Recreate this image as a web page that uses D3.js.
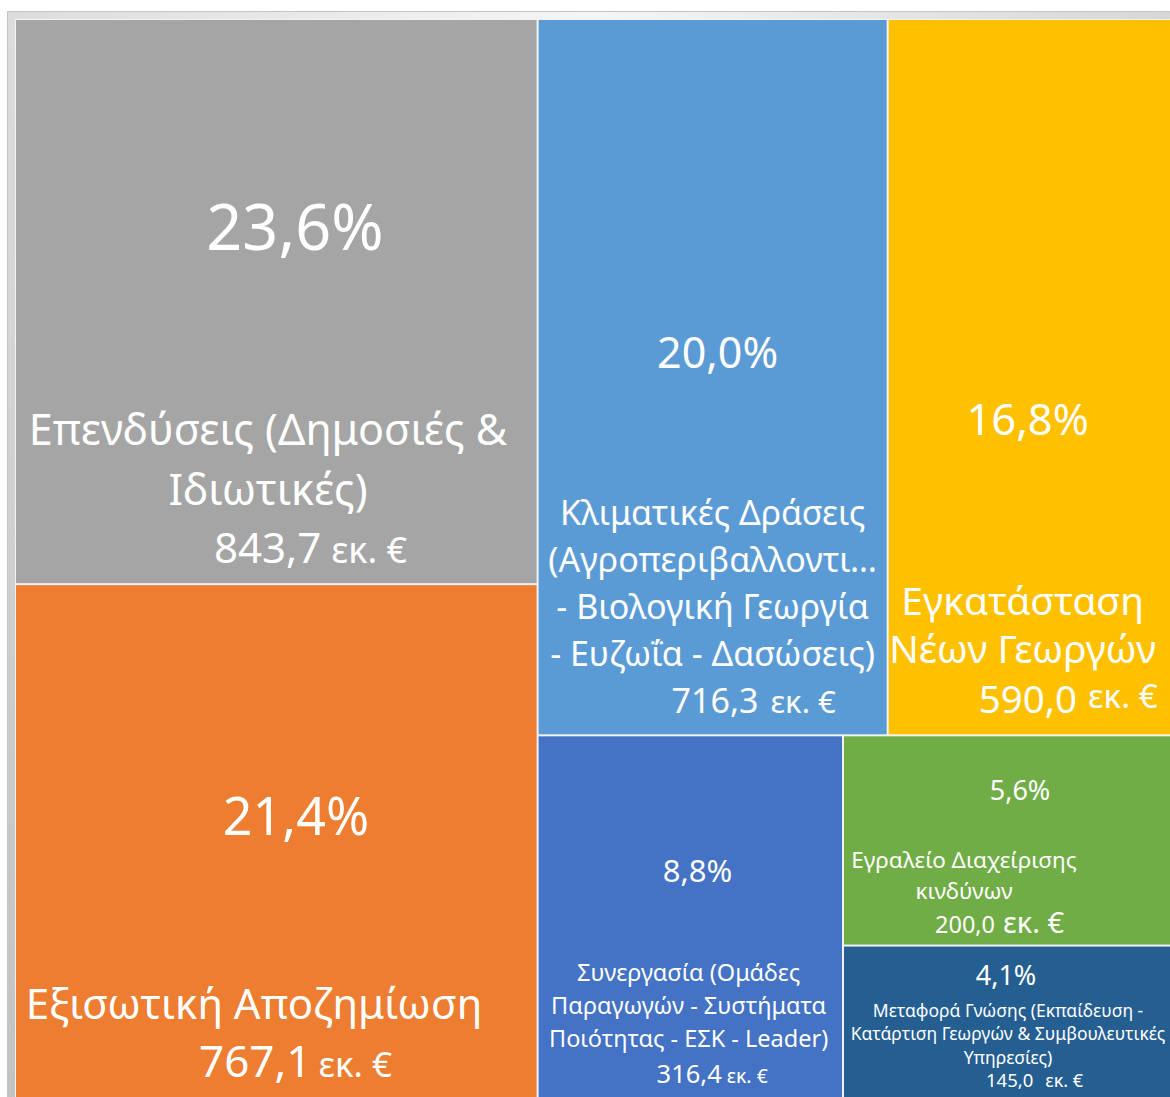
<!DOCTYPE html>
<html>
<head>
  <meta charset="utf-8">
  <script src="https://d3js.org/d3.v7.min.js"></script>
  <style>
    body { margin: 0; background: #ffffff; }
    svg { display: block; }
    text { font-family: 'Noto Sans', sans-serif; fill: #ffffff; }
  </style>
</head>
<body>
  <div id="my_dataviz"></div>

  <script>
    // data (million euro)
    var names = [
      ["Επενδύσεις (Δημοσιές &", "Ιδιωτικές)"],
      ["Εξισωτική Αποζημίωση"],
      ["Κλιματικές Δράσεις", "(Αγροπεριβαλλοντι…", "- Βιολογική Γεωργία", "- Ευζωΐα - Δασώσεις)"],
      ["Εγκατάσταση", "Νέων Γεωργών"],
      ["Συνεργασία (Ομάδες", "Παραγωγών - Συστήματα", "Ποιότητας - ΕΣΚ - Leader)"],
      ["Εγραλείο Διαχείρισης", "κινδύνων"],
      ["Μεταφορά Γνώσης (Εκπαίδευση -", "Κατάρτιση Γεωργών & Συμβουλευτικές", "Υπηρεσίες)"]
    ];
    var values = [843.7, 767.1, 716.3, 590.0, 316.4, 200.0, 145.0];
    var pctLabels = ["23,6%", "21,4%", "20,0%", "16,8%", "8,8%", "5,6%", "4,1%"];
    var unitLabel = "εκ. €";

    // how the tiles are grouped: "x" = side by side, "y" = stacked
    var grouping = ["x", ["y", 0, 1], ["y", ["x", 2, 3], ["x", 4, ["y", 5, 6]]]];

    var colors = ["#a5a5a5", "#ed7d31", "#5b9bd5", "#ffc000", "#4472c4", "#70ad47", "#255e91"];

    // label placement inside each tile (offsets from the tile's top-left corner)
    // pct: [x, y, size]  name: [x, y, line step, size]  val: [x, y, size, unit size, gap, rise]
    var labelStyle = [
      { pct: [279, 230, 63], name: [252, 425, 60, 43],   val: [198, 543, 42, 36, 10, 0] },
      { pct: [280, 250, 52], name: [238, 434, 0, 42],    val: [183, 492, 44, 35, 7, 0] },
      { pct: [179, 348, 43], name: [174, 505, 47, 34],   val: [133, 693, 34, 31, 12, 0] },
      { pct: [139, 415, 43.5], name: [134, 595, 48, 39], val: [90, 693, 38.5, 33, 11, 5] },
      { pct: [159, 146, 31], name: [150, 245, 33, 23.5], val: [118, 347, 25.5, 19.5, 5, 0] },
      { pct: [176, 64, 27],  name: [120, 132, 31, 22.5], val: [91, 197, 23.5, 29, 8, 0] },
      { pct: [162, 38, 27],  name: [164, 70, 23.5, 17.5], val: [142, 140, 18.5, 18, 12, 0] }
    ];

    var W = 1170, H = 1097;
    var margin = { top: 20, left: 16 },
      width = 1159,
      height = 1077;

    var fmt = d3.formatLocale({ decimal: ",", thousands: ".", grouping: [3], currency: ["", "€"] }).format(".1f");

    var svg = d3.select("#my_dataviz")
      .append("svg")
      .attr("width", W)
      .attr("height", H);

    // frame around the chart
    var defs = svg.append("defs");
    var gh = defs.append("linearGradient").attr("id", "frameH");
    gh.append("stop").attr("offset", "0%").attr("stop-color", "#dcdcdc");
    gh.append("stop").attr("offset", "50%").attr("stop-color", "#f5f5f5");
    gh.append("stop").attr("offset", "100%").attr("stop-color", "#d6d6d6");
    var gv = defs.append("linearGradient").attr("id", "frameV")
      .attr("x1", 0).attr("y1", 0).attr("x2", 0).attr("y2", 1);
    gv.append("stop").attr("offset", "0%").attr("stop-color", "#000").attr("stop-opacity", 0);
    gv.append("stop").attr("offset", "100%").attr("stop-color", "#000").attr("stop-opacity", 0.12);

    svg.append("rect")
      .attr("x", 7.5).attr("y", 11.5)
      .attr("width", W).attr("height", H)
      .style("fill", "url(#frameH)")
      .style("stroke", "#c4c4c4");
    svg.append("rect")
      .attr("x", 8).attr("y", 12)
      .attr("width", W).attr("height", H)
      .style("fill", "url(#frameV)");
    svg.append("rect")
      .attr("x", margin.left - 1).attr("y", margin.top - 1)
      .attr("width", width + 2).attr("height", height + 2)
      .style("fill", "#f3f3f3");

    // build the hierarchy from the grouping
    function build(t) {
      if (typeof t === "number") return { i: t, value: values[t] };
      return { split: t[0], children: t.slice(1).map(build) };
    }

    var root = d3.hierarchy(build(grouping))
      .sum(function (d) { return d.value || 0; });

    d3.treemap()
      .tile(function (node, x0, y0, x1, y1) {
        if (node.data.split === "x") d3.treemapDice(node, x0, y0, x1, y1);
        else d3.treemapSlice(node, x0, y0, x1, y1);
      })
      .size([width, height])
      .paddingInner(2)(root);

    var leaves = root.leaves();

    var cell = svg.append("g")
      .attr("transform", "translate(" + margin.left + "," + margin.top + ")")
      .selectAll("g")
      .data(leaves)
      .enter()
      .append("g")
      .attr("transform", function (d) { return "translate(" + d.x0 + "," + d.y0 + ")"; });

    cell.append("rect")
      .attr("width", function (d) { return d.x1 - d.x0; })
      .attr("height", function (d) { return d.y1 - d.y0; })
      .style("fill", function (d) { return colors[d.data.i]; });

    // percentage
    cell.append("text")
      .attr("x", function (d) { return labelStyle[d.data.i].pct[0]; })
      .attr("y", function (d) { return labelStyle[d.data.i].pct[1]; })
      .style("font-size", function (d) { return labelStyle[d.data.i].pct[2] + "px"; })
      .style("text-anchor", "middle")
      .text(function (d) { return pctLabels[d.data.i]; });

    // category name, one tspan per line
    cell.append("text")
      .style("text-anchor", "middle")
      .style("font-size", function (d) { return labelStyle[d.data.i].name[3] + "px"; })
      .each(function (d) {
        var s = labelStyle[d.data.i].name;
        d3.select(this).selectAll("tspan")
          .data(names[d.data.i])
          .enter()
          .append("tspan")
          .attr("x", s[0])
          .attr("y", function (line, k) { return s[1] + k * s[2]; })
          .text(function (line) { return line; });
      });

    // value + unit
    var val = cell.append("text")
      .attr("x", function (d) { return labelStyle[d.data.i].val[0]; })
      .attr("y", function (d) { return labelStyle[d.data.i].val[1]; })
      .style("font-size", function (d) { return labelStyle[d.data.i].val[2] + "px"; });
    val.append("tspan")
      .text(function (d) { return fmt(values[d.data.i]); });
    val.append("tspan")
      .attr("dx", function (d) { return labelStyle[d.data.i].val[4]; })
      .attr("dy", function (d) { return -labelStyle[d.data.i].val[5]; })
      .style("font-size", function (d) { return labelStyle[d.data.i].val[3] + "px"; })
      .text(unitLabel);
  </script>
</body>
</html>
